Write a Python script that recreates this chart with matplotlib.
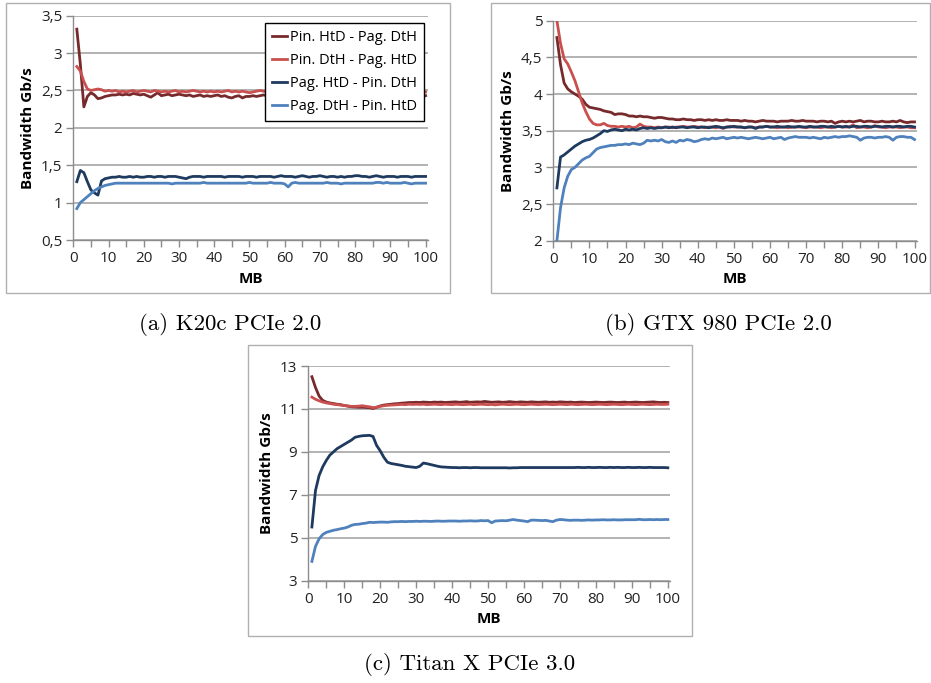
#
# plot.py
#
# Bandwidth vs transfer size for three GPUs (pinned / pageable, HtD / DtH)
#

import numpy as np
import matplotlib
matplotlib.use('Agg')
import matplotlib.pyplot as plt
from matplotlib.patches import Rectangle
from matplotlib.ticker import FuncFormatter, MultipleLocator

###################################################################################################
# Data
mb = np.arange(1, 101)

series_names = ['Pin. HtD - Pag. DtH', 'Pin. DtH - Pag. HtD',
                'Pag. HtD - Pin. DtH', 'Pag. DtH - Pin. HtD']

# (a) K20c PCIe 2.0
a_pin_htd = [3.32, 2.85, 2.28, 2.42, 2.47, 2.44, 2.39, 2.40, 2.42, 2.43,
             2.44, 2.44, 2.45, 2.44, 2.45, 2.44, 2.46, 2.45, 2.44, 2.45,
             2.43, 2.41, 2.44, 2.47, 2.43, 2.44, 2.45, 2.43, 2.44, 2.45,
             2.44, 2.43, 2.44, 2.42, 2.43, 2.44, 2.42, 2.43, 2.42, 2.43,
             2.44, 2.42, 2.43, 2.41, 2.40, 2.42, 2.43, 2.40, 2.42, 2.42,
             2.43, 2.42, 2.43, 2.44, 2.43, 2.42, 2.44, 2.43, 2.42, 2.43,
             2.44, 2.42, 2.43, 2.44, 2.43, 2.42, 2.44, 2.43, 2.42, 2.43,
             2.43, 2.42, 2.44, 2.43, 2.42, 2.43, 2.44, 2.42, 2.43, 2.42,
             2.44, 2.43, 2.42, 2.43, 2.44, 2.42, 2.43, 2.42, 2.44, 2.43,
             2.42, 2.43, 2.44, 2.42, 2.43, 2.42, 2.43, 2.42, 2.41, 2.43]
a_pin_dth = [2.82, 2.76, 2.62, 2.52, 2.50, 2.51, 2.52, 2.51, 2.49, 2.50,
             2.49, 2.50, 2.48, 2.49, 2.48, 2.49, 2.50, 2.48, 2.49, 2.50,
             2.49, 2.48, 2.50, 2.49, 2.48, 2.49, 2.48, 2.49, 2.50, 2.48,
             2.49, 2.48, 2.49, 2.50, 2.49, 2.48, 2.49, 2.48, 2.49, 2.48,
             2.49, 2.48, 2.49, 2.50, 2.48, 2.49, 2.48, 2.49, 2.48, 2.47,
             2.48, 2.49, 2.50, 2.49, 2.48, 2.49, 2.48, 2.49, 2.48, 2.49,
             2.48, 2.49, 2.48, 2.49, 2.48, 2.49, 2.48, 2.49, 2.48, 2.49,
             2.48, 2.49, 2.48, 2.49, 2.48, 2.49, 2.48, 2.49, 2.48, 2.49,
             2.48, 2.49, 2.48, 2.49, 2.48, 2.49, 2.48, 2.49, 2.48, 2.49,
             2.48, 2.49, 2.48, 2.49, 2.48, 2.49, 2.48, 2.49, 2.49, 2.48]
a_pag_htd = [1.28, 1.43, 1.40, 1.28, 1.17, 1.13, 1.10, 1.29, 1.32, 1.33,
             1.34, 1.34, 1.35, 1.34, 1.34, 1.35, 1.34, 1.35, 1.34, 1.34,
             1.35, 1.35, 1.34, 1.35, 1.35, 1.34, 1.35, 1.35, 1.35, 1.34,
             1.33, 1.32, 1.34, 1.35, 1.35, 1.35, 1.34, 1.35, 1.35, 1.35,
             1.35, 1.35, 1.34, 1.35, 1.35, 1.35, 1.35, 1.34, 1.35, 1.35,
             1.35, 1.34, 1.35, 1.35, 1.35, 1.35, 1.34, 1.35, 1.36, 1.35,
             1.35, 1.35, 1.34, 1.35, 1.36, 1.35, 1.34, 1.35, 1.35, 1.36,
             1.35, 1.34, 1.35, 1.35, 1.34, 1.35, 1.34, 1.35, 1.35, 1.36,
             1.36, 1.35, 1.35, 1.34, 1.35, 1.36, 1.35, 1.34, 1.35, 1.35,
             1.35, 1.34, 1.35, 1.35, 1.35, 1.34, 1.35, 1.35, 1.35, 1.35]
a_pag_dth = [0.92, 1.00, 1.04, 1.08, 1.12, 1.16, 1.19, 1.21, 1.23, 1.24,
             1.25, 1.26, 1.26, 1.26, 1.26, 1.26, 1.26, 1.26, 1.26, 1.26,
             1.26, 1.26, 1.26, 1.26, 1.26, 1.26, 1.26, 1.25, 1.26, 1.26,
             1.26, 1.26, 1.26, 1.26, 1.26, 1.26, 1.27, 1.26, 1.26, 1.26,
             1.26, 1.26, 1.26, 1.26, 1.26, 1.26, 1.26, 1.26, 1.26, 1.27,
             1.26, 1.26, 1.26, 1.26, 1.26, 1.27, 1.26, 1.26, 1.26, 1.25,
             1.21, 1.26, 1.27, 1.26, 1.26, 1.26, 1.26, 1.26, 1.26, 1.26,
             1.26, 1.27, 1.26, 1.26, 1.26, 1.25, 1.26, 1.26, 1.26, 1.26,
             1.26, 1.26, 1.26, 1.26, 1.26, 1.27, 1.27, 1.26, 1.27, 1.26,
             1.26, 1.26, 1.26, 1.27, 1.26, 1.25, 1.26, 1.26, 1.26, 1.26]

# (b) GTX 980 PCIe 2.0
b_pin_htd = [4.77, 4.40, 4.15, 4.07, 4.03, 4.00, 3.97, 3.93, 3.86, 3.82,
             3.81, 3.80, 3.79, 3.77, 3.76, 3.75, 3.72, 3.73, 3.73, 3.72,
             3.70, 3.70, 3.69, 3.70, 3.69, 3.69, 3.68, 3.67, 3.68, 3.68,
             3.67, 3.66, 3.66, 3.65, 3.65, 3.66, 3.65, 3.65, 3.64, 3.65,
             3.65, 3.64, 3.65, 3.64, 3.65, 3.64, 3.64, 3.65, 3.64, 3.64,
             3.64, 3.63, 3.64, 3.63, 3.63, 3.62, 3.63, 3.64, 3.63, 3.63,
             3.63, 3.62, 3.63, 3.63, 3.63, 3.64, 3.63, 3.63, 3.64, 3.63,
             3.63, 3.63, 3.62, 3.63, 3.63, 3.62, 3.63, 3.60, 3.62, 3.63,
             3.62, 3.63, 3.62, 3.63, 3.64, 3.62, 3.63, 3.63, 3.62, 3.62,
             3.63, 3.62, 3.62, 3.63, 3.62, 3.64, 3.62, 3.61, 3.62, 3.62]
b_pin_dth = [5.00, 4.69, 4.48, 4.41, 4.30, 4.18, 4.03, 3.88, 3.76, 3.66,
             3.60, 3.58, 3.58, 3.60, 3.57, 3.56, 3.56, 3.55, 3.56, 3.55,
             3.56, 3.54, 3.55, 3.59, 3.56, 3.55, 3.55, 3.54, 3.55, 3.54,
             3.55, 3.55, 3.54, 3.55, 3.55, 3.56, 3.55, 3.55, 3.56, 3.55,
             3.55, 3.54, 3.55, 3.55, 3.54, 3.55, 3.53, 3.55, 3.56, 3.55,
             3.55, 3.55, 3.54, 3.55, 3.55, 3.54, 3.55, 3.55, 3.56, 3.55,
             3.55, 3.54, 3.55, 3.55, 3.54, 3.55, 3.55, 3.55, 3.55, 3.54,
             3.55, 3.55, 3.55, 3.54, 3.55, 3.55, 3.54, 3.55, 3.56, 3.55,
             3.55, 3.55, 3.58, 3.54, 3.55, 3.55, 3.54, 3.55, 3.57, 3.55,
             3.55, 3.54, 3.55, 3.55, 3.55, 3.54, 3.55, 3.55, 3.54, 3.54]
b_pag_htd = [2.72, 3.14, 3.17, 3.21, 3.25, 3.29, 3.32, 3.35, 3.37, 3.38,
             3.40, 3.43, 3.46, 3.50, 3.49, 3.51, 3.52, 3.51, 3.50, 3.52,
             3.51, 3.52, 3.51, 3.53, 3.54, 3.53, 3.54, 3.53, 3.54, 3.54,
             3.55, 3.54, 3.55, 3.54, 3.55, 3.55, 3.54, 3.55, 3.55, 3.54,
             3.55, 3.55, 3.54, 3.55, 3.56, 3.55, 3.54, 3.55, 3.55, 3.56,
             3.55, 3.55, 3.54, 3.55, 3.55, 3.53, 3.55, 3.55, 3.56, 3.55,
             3.55, 3.56, 3.55, 3.55, 3.56, 3.55, 3.55, 3.56, 3.55, 3.55,
             3.56, 3.55, 3.55, 3.56, 3.56, 3.55, 3.56, 3.55, 3.56, 3.55,
             3.56, 3.55, 3.56, 3.56, 3.55, 3.56, 3.56, 3.55, 3.56, 3.56,
             3.55, 3.56, 3.56, 3.55, 3.56, 3.56, 3.55, 3.56, 3.56, 3.55]
b_pag_dth = [2.00, 2.45, 2.72, 2.88, 2.97, 3.00, 3.05, 3.10, 3.13, 3.15,
             3.20, 3.25, 3.27, 3.28, 3.29, 3.30, 3.30, 3.31, 3.31, 3.32,
             3.31, 3.33, 3.32, 3.31, 3.33, 3.37, 3.36, 3.37, 3.36, 3.38,
             3.35, 3.34, 3.36, 3.34, 3.37, 3.36, 3.38, 3.37, 3.35, 3.36,
             3.38, 3.39, 3.38, 3.40, 3.39, 3.40, 3.41, 3.39, 3.40, 3.41,
             3.40, 3.41, 3.40, 3.39, 3.40, 3.41, 3.40, 3.39, 3.40, 3.41,
             3.39, 3.40, 3.41, 3.38, 3.40, 3.41, 3.42, 3.41, 3.41, 3.41,
             3.40, 3.41, 3.40, 3.39, 3.41, 3.40, 3.41, 3.42, 3.41, 3.42,
             3.42, 3.43, 3.42, 3.41, 3.37, 3.40, 3.41, 3.41, 3.40, 3.41,
             3.41, 3.42, 3.41, 3.37, 3.41, 3.42, 3.42, 3.41, 3.41, 3.38]

# (c) Titan X PCIe 3.0
c_pin_htd = [12.50, 12.00, 11.60, 11.40, 11.32, 11.28, 11.25, 11.22, 11.20, 11.16,
             11.13, 11.10, 11.09, 11.08, 11.08, 11.07, 11.06, 11.02, 11.08, 11.14,
             11.18, 11.20, 11.22, 11.24, 11.25, 11.27, 11.28, 11.30, 11.30, 11.31,
             11.30, 11.32, 11.31, 11.30, 11.32, 11.31, 11.32, 11.30, 11.31, 11.32,
             11.33, 11.31, 11.32, 11.34, 11.31, 11.32, 11.33, 11.32, 11.35, 11.33,
             11.31, 11.32, 11.33, 11.31, 11.32, 11.34, 11.32, 11.31, 11.33, 11.32,
             11.31, 11.33, 11.32, 11.31, 11.32, 11.33, 11.31, 11.32, 11.31, 11.33,
             11.32, 11.31, 11.32, 11.30, 11.31, 11.32, 11.31, 11.30, 11.31, 11.32,
             11.31, 11.30, 11.31, 11.32, 11.31, 11.30, 11.31, 11.32, 11.30, 11.31,
             11.32, 11.31, 11.30, 11.31, 11.32, 11.33, 11.31, 11.30, 11.31, 11.30]
c_pin_dth = [11.55, 11.45, 11.38, 11.32, 11.28, 11.25, 11.22, 11.20, 11.18, 11.16,
             11.14, 11.12, 11.12, 11.13, 11.15, 11.12, 11.10, 11.06, 11.08, 11.12,
             11.15, 11.17, 11.18, 11.19, 11.20, 11.21, 11.20, 11.22, 11.21, 11.22,
             11.21, 11.22, 11.20, 11.21, 11.22, 11.21, 11.20, 11.22, 11.21, 11.20,
             11.22, 11.21, 11.20, 11.21, 11.22, 11.20, 11.21, 11.22, 11.21, 11.20,
             11.21, 11.19, 11.21, 11.22, 11.21, 11.20, 11.21, 11.22, 11.21, 11.20,
             11.21, 11.22, 11.21, 11.20, 11.21, 11.22, 11.21, 11.20, 11.21, 11.22,
             11.21, 11.20, 11.22, 11.21, 11.20, 11.21, 11.22, 11.21, 11.20, 11.21,
             11.22, 11.21, 11.20, 11.21, 11.22, 11.21, 11.20, 11.21, 11.22, 11.21,
             11.20, 11.21, 11.22, 11.21, 11.20, 11.21, 11.22, 11.21, 11.21, 11.22]
c_pag_htd = [5.50, 7.20, 7.90, 8.30, 8.60, 8.85, 9.00, 9.15, 9.25, 9.35,
             9.45, 9.55, 9.68, 9.72, 9.75, 9.76, 9.77, 9.72, 9.30, 9.05,
             8.75, 8.52, 8.46, 8.43, 8.40, 8.37, 8.33, 8.31, 8.29, 8.27,
             8.33, 8.48, 8.45, 8.41, 8.37, 8.33, 8.30, 8.29, 8.28, 8.27,
             8.27, 8.26, 8.27, 8.27, 8.26, 8.27, 8.27, 8.26, 8.26, 8.26,
             8.26, 8.26, 8.26, 8.26, 8.26, 8.25, 8.26, 8.26, 8.27, 8.27,
             8.27, 8.27, 8.27, 8.27, 8.27, 8.27, 8.27, 8.27, 8.27, 8.27,
             8.27, 8.27, 8.27, 8.27, 8.28, 8.27, 8.27, 8.28, 8.27, 8.27,
             8.28, 8.27, 8.27, 8.28, 8.27, 8.28, 8.27, 8.27, 8.28, 8.27,
             8.27, 8.28, 8.27, 8.27, 8.28, 8.27, 8.27, 8.27, 8.27, 8.26]
c_pag_dth = [3.90, 4.60, 4.95, 5.15, 5.25, 5.30, 5.35, 5.38, 5.42, 5.45,
             5.50, 5.58, 5.62, 5.63, 5.66, 5.68, 5.72, 5.71, 5.72, 5.73,
             5.73, 5.72, 5.74, 5.75, 5.75, 5.76, 5.75, 5.76, 5.76, 5.77,
             5.76, 5.77, 5.77, 5.76, 5.77, 5.78, 5.77, 5.77, 5.78, 5.78,
             5.78, 5.77, 5.78, 5.78, 5.79, 5.78, 5.78, 5.80, 5.79, 5.80,
             5.70, 5.78, 5.79, 5.80, 5.79, 5.82, 5.85, 5.82, 5.80, 5.78,
             5.75, 5.82, 5.82, 5.81, 5.80, 5.81, 5.78, 5.75, 5.82, 5.85,
             5.84, 5.82, 5.81, 5.82, 5.82, 5.81, 5.82, 5.83, 5.82, 5.83,
             5.83, 5.84, 5.83, 5.83, 5.84, 5.83, 5.83, 5.84, 5.84, 5.84,
             5.84, 5.86, 5.84, 5.84, 5.85, 5.84, 5.85, 5.84, 5.85, 5.85]

y_ticks = [[0.5, 1, 1.5, 2, 2.5, 3, 3.5],
           [2, 2.5, 3, 3.5, 4, 4.5, 5],
           [3, 5, 7, 9, 11, 13]]
captions = ['(a) K20c PCIe 2.0', '(b) GTX 980 PCIe 2.0', '(c) Titan X PCIe 3.0']
###################################################################################################

W, H = 931, 683
colors = ['#772a2b', '#c9504f', '#1f3a5f', '#4f81bd']
grid_gray = '#a6a6a6'
chart_font = 'Open Sans'


def px_axes(fig, x0, y0, x1, y1):
	# Add axes given pixel corners measured from the top left
	return fig.add_axes([x0 / W, 1 - y1 / H, (x1 - x0) / W, (y1 - y0) / H])


def px_box(fig, x0, y0, x1, y1):
	# Grey frame around each chart
	fig.add_artist(Rectangle((x0 / W, 1 - y1 / H), (x1 - x0) / W, (y1 - y0) / H,
	                         transform=fig.transFigure, fill=False,
	                         edgecolor='#b0b0b0', linewidth=1.0))


def comma_fmt(v, pos):
	return ('%g' % v).replace('.', ',')


def style_axes(ax, yticks):
	ax.set_xlim(0, 100.6)
	ax.set_ylim(yticks[0], yticks[-1])
	ax.xaxis.set_major_locator(MultipleLocator(10))
	ax.xaxis.set_minor_locator(MultipleLocator(5))
	ax.set_yticks(yticks)
	ax.yaxis.set_major_formatter(FuncFormatter(comma_fmt))
	ax.grid(axis='y', color=grid_gray, linewidth=1.2, zorder=0)
	ax.set_axisbelow(True)
	for side in ['top', 'right']:
		ax.spines[side].set_visible(False)
	for side in ['left', 'bottom']:
		ax.spines[side].set_color('#8c8c8c')
		ax.spines[side].set_linewidth(1.0)
	ax.tick_params(axis='both', which='both', direction='out', color='#8c8c8c',
	               length=5, width=1.0, labelsize=11, labelcolor='#222222', pad=3)
	for lab in ax.get_xticklabels() + ax.get_yticklabels():
		lab.set_fontfamily(chart_font)
	ax.set_xlabel('MB', fontfamily=chart_font, fontweight='bold', fontsize=11, labelpad=4)
	ax.set_ylabel('Bandwidth Gb/s', fontfamily=chart_font, fontweight='bold', fontsize=11,
	              labelpad=4)


fig = plt.figure(figsize=(W / 100, H / 100), dpi=100)

boxes = [(6, 3, 450, 293), (491, 3, 930, 293), (248, 345, 692, 636)]
axes_px = [(73.3, 15.7, 427.7, 240), (553.3, 20.7, 916.7, 240.7), (308.3, 366, 670, 580.7)]
caption_pos = [(230, 325), (718, 325), (470, 665)]
data = [[a_pin_htd, a_pin_dth, a_pag_htd, a_pag_dth],
        [b_pin_htd, b_pin_dth, b_pag_htd, b_pag_dth],
        [c_pin_htd, c_pin_dth, c_pag_htd, c_pag_dth]]

for i in range(3):
	px_box(fig, *boxes[i])
	ax = px_axes(fig, *axes_px[i])
	for j in range(4):
		ax.plot(mb, data[i][j], color=colors[j], linewidth=2.0, label=series_names[j],
		        solid_joinstyle='round', zorder=3)
	style_axes(ax, y_ticks[i])

	if i == 0:
		leg = ax.legend(loc='upper right', bbox_to_anchor=(0.989, 0.969), borderaxespad=0,
		                frameon=True, fancybox=False, framealpha=1, edgecolor='black',
		                handlelength=1.0, handletextpad=0.2, labelspacing=0.55,
		                borderpad=0.5, prop={'family': chart_font, 'size': 10.5})
		leg.get_frame().set_linewidth(1.0)
		leg.set_zorder(5)

	fig.text(caption_pos[i][0] / W, 1 - caption_pos[i][1] / H, captions[i],
	         family='cmr10', fontsize=16.5, ha='center', va='center')

fig.savefig('out.png', dpi=100)
